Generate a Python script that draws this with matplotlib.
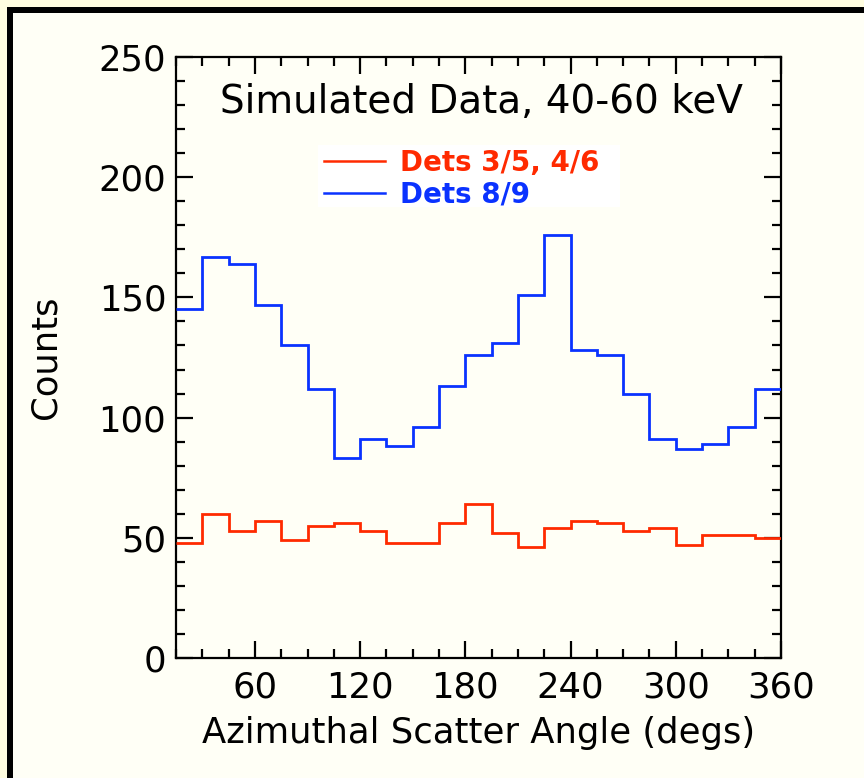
import numpy as np
import matplotlib
matplotlib.use("Agg")
import matplotlib.pyplot as plt
from matplotlib.patches import Rectangle
from matplotlib.lines import Line2D
from matplotlib.ticker import MultipleLocator

# ---- data ----
bin_edges = [15, 30, 45, 60, 75, 90, 105, 120, 135, 150, 165, 180, 195,
             210, 225, 240, 255, 270, 285, 300, 315, 330, 345, 360]
counts_35_46 = [48, 60, 53, 57, 49, 55, 56, 53, 48, 48, 56, 64,
                52, 46, 54, 57, 56, 53, 54, 47, 51, 51, 50]
counts_89 = [145, 167, 164, 147, 130, 112, 83, 91, 88, 96, 113, 126,
             131, 151, 176, 128, 126, 110, 91, 87, 89, 96, 112]
label_35_46 = "Dets 3/5, 4/6"
label_89 = "Dets 8/9"
title_text = "Simulated Data, 40-60 keV"
x_label = "Azimuthal Scatter Angle (degs)"
y_label = "Counts"
x_ticks = [60, 120, 180, 240, 300, 360]
y_ticks = [0, 50, 100, 150, 200, 250]

RED = "#ff2a00"
BLUE = "#0a32ff"
W, H = 864, 778

fig = plt.figure(figsize=(W / 100, H / 100), dpi=100)
fig.patch.set_facecolor("#fffff6")

def px_rect(x0, y0, x1, y1, color, z=0, target=None):
    r = Rectangle((x0 / W, 1 - y1 / H), (x1 - x0) / W, (y1 - y0) / H,
                  transform=fig.transFigure, facecolor=color, edgecolor="none",
                  zorder=z)
    if target is None:
        fig.patches.append(r)
    else:
        target.add_patch(r)

# outer yellow margin and black frame (left + top only, rest is cropped)
px_rect(0, 0, W, 7, "#fffde0")
px_rect(0, 0, 7, H, "#fffde0")
px_rect(7, 7, W, 13, "black")
px_rect(7, 7, 13, H, "black")

ax = fig.add_axes([176 / W, 1 - 658 / H, (781 - 176) / W, (658 - 57) / H])
ax.set_facecolor("#fffff6")

ax.stairs(counts_89, bin_edges, color=BLUE, lw=2.0, zorder=3, baseline=None)
ax.stairs(counts_35_46, bin_edges, color=RED, lw=2.0, zorder=3, baseline=None)

ax.set_xlim(15, 360)
ax.set_ylim(0, 250)
ax.set_xticks(x_ticks)
ax.set_yticks(y_ticks)
ax.xaxis.set_minor_locator(MultipleLocator(15))
ax.yaxis.set_minor_locator(MultipleLocator(10))
ax.tick_params(which="both", direction="in", top=True, right=True,
               width=1.6, colors="black")
ax.tick_params(which="major", length=12, labelsize=25.5)
ax.tick_params(which="minor", length=6.5)
ax.tick_params(axis="x", which="major", pad=9)
ax.tick_params(axis="y", which="major", pad=7)
for s in ax.spines.values():
    s.set_linewidth(1.6)

ax.set_xlabel(x_label, fontsize=25.5, labelpad=8)
ax.set_ylabel(y_label, fontsize=25.5, labelpad=26)

ax.text(0.505, 0.925, title_text, transform=ax.transAxes, ha="center",
        va="center", fontsize=28, color="black")

# legend white box (inside the axes, below the legend)
px_rect(318, 145, 620, 207, "white", z=1, target=ax)
handles = [Line2D([], [], color=RED, lw=1.8), Line2D([], [], color=BLUE, lw=1.8)]
leg = ax.legend(handles, [label_35_46, label_89], loc="upper left",
                bbox_to_anchor=(318 / W, 1 - 143 / H),
                bbox_transform=fig.transFigure, frameon=False,
                prop={"weight": "bold", "size": 20}, handlelength=2.2,
                handletextpad=0.55, labelspacing=0.15, borderpad=0.2,
                borderaxespad=0)
leg.set_zorder(5)
for t, c in zip(leg.get_texts(), [RED, BLUE]):
    t.set_color(c)

fig.savefig("out.png", dpi=100, facecolor=fig.get_facecolor())
